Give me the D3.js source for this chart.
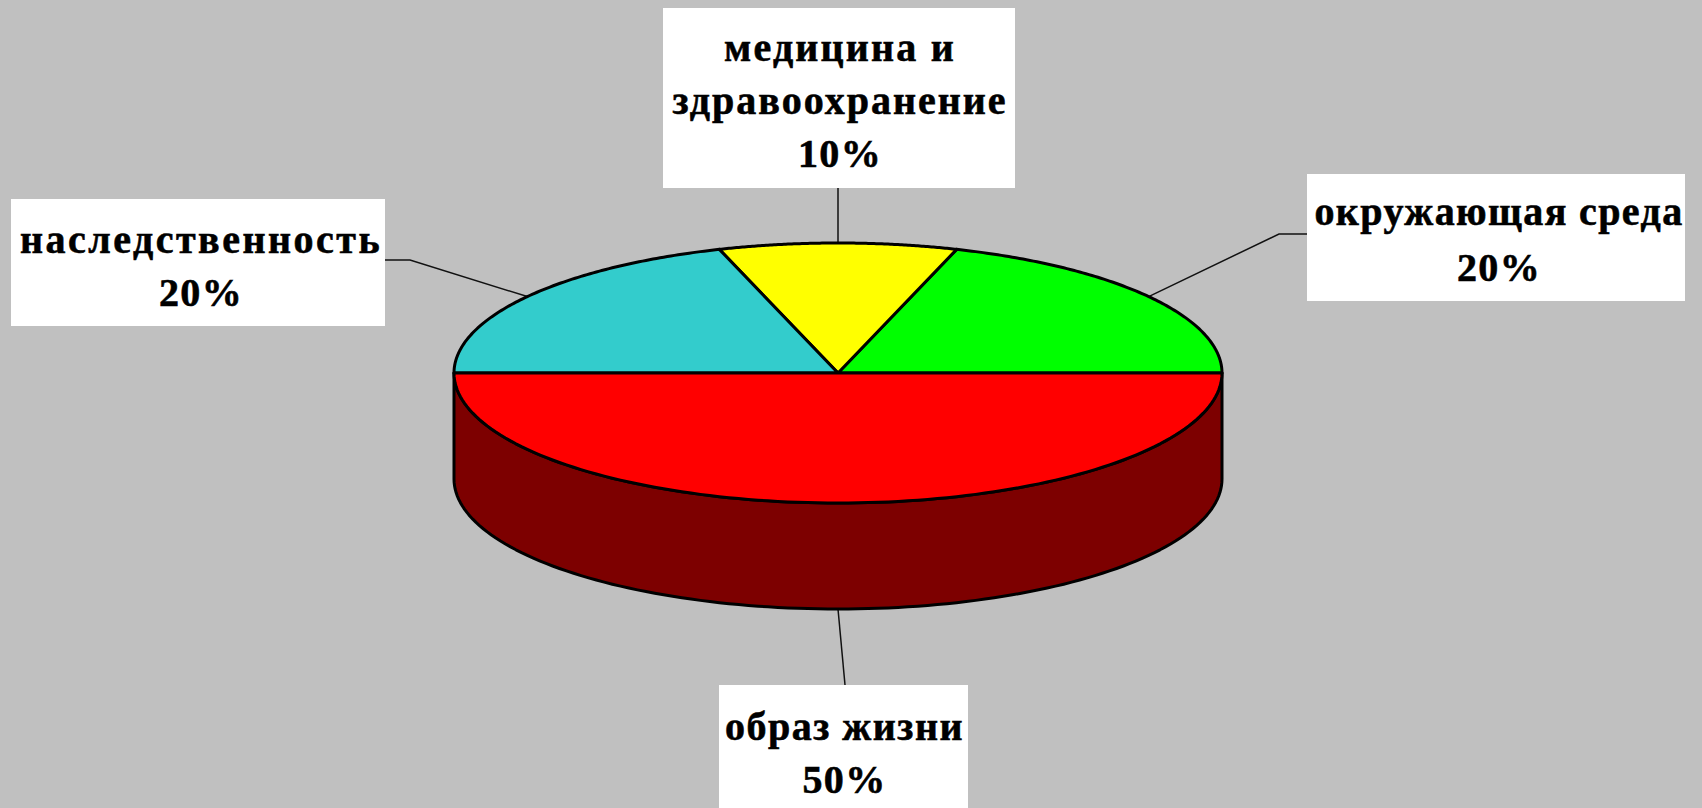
<!DOCTYPE html>
<html lang="ru">
<head>
<meta charset="utf-8">
<title>Факторы здоровья</title>
<script src="https://cdn.jsdelivr.net/npm/d3@7/dist/d3.min.js"></script>
<style>
html, body { margin: 0; padding: 0; background: #c0c0c0; overflow: hidden; }
svg { display: block; }
text { font-family: "Liberation Serif", serif; font-weight: 700; fill: #000; stroke: #000; stroke-width: 0.6px; text-anchor: middle; }
</style>
</head>
<body>
<svg id="chart" width="1702" height="808"></svg>
<script>
// Slices, clockwise starting from the rightmost point of the disc
const categories = ["образ жизни", "наследственность", "медицина и здравоохранение", "окружающая среда"];
const values = [50, 20, 10, 20];
const labelLines = [["образ жизни"], ["наследственность"], ["медицина и", "здравоохранение"], ["окружающая среда"]];

const topColours = ["#ff0000", "#33cccc", "#ffff00", "#00ff00"];
const wallColour = "#7d0000";

const width = 1702, height = 808;
const cx = 838, cy = 373;
const radiusX = 384, radiusY = 130, depth = 106;

// Label boxes, in the same order as the slices; tracking is per text row
const boxes = [
  { x0: 719, x1: 968, y0: 685, y1: 812, firstBaseline: 740, lineStep: 53, textShift: 1, tracking: [1.5, 1.3] },
  { x0: 11, x1: 385, y0: 199, y1: 326, firstBaseline: 253, lineStep: 53, textShift: 3, tracking: [2.5, 1.3] },
  { x0: 663, x1: 1015, y0: 8, y1: 188, firstBaseline: 61, lineStep: 53, textShift: 1, tracking: [2.2, 2, 1.3] },
  { x0: 1307, x1: 1685, y0: 174, y1: 301, firstBaseline: 225, lineStep: 56, textShift: 3, tracking: [1.4, 1.3] }
];

const svg = d3.select("#chart");

// Flat disc coordinates are projected through two linear scales
const px = d3.scaleLinear().domain([-1, 1]).range([cx - radiusX, cx + radiusX]);
const py = d3.scaleLinear().domain([-1, 1]).range([cy - radiusY, cy + radiusY]);

const slices = d3.pie().sort(null).value(d => d)
  .startAngle(Math.PI / 2).endAngle(Math.PI * 2.5)(values);

const rim = (a, drop = 0) => [px(Math.sin(a)), py(-Math.cos(a)) + drop];
const sampleAngles = (a0, a1) => d3.range(0, 121).map(i => a0 + (a1 - a0) * i / 120);
const line = d3.line();

// Side wall of the cylinder: only the front half is visible
const front = slices[0];
const wallOutline = [
  ...sampleAngles(front.startAngle, front.endAngle).map(a => rim(a)),
  ...sampleAngles(front.endAngle, front.startAngle).map(a => rim(a, depth))
];

// Leader lines go under the boxes and the pie
const mid = d => (d.startAngle + d.endAngle) / 2;
const leaders = slices.map((d, i) => {
  const b = boxes[i];
  const drop = i === 0 ? depth : 0;
  const start = rim(mid(d), drop);
  if (i === 0) return [start, [start[0] + 7, b.y0]];
  if (i === 2) return [start, [start[0], b.y1]];
  const boxEdge = i === 1 ? b.x1 : b.x0;
  const elbowX = i === 1 ? boxEdge + 25 : boxEdge - 28;
  const elbowY = i === 1 ? 260 : 234;
  return [start, [elbowX, elbowY], [boxEdge, elbowY]];
});

svg.append("g").selectAll("path").data(leaders).join("path")
  .attr("d", d => line(d))
  .attr("fill", "none").attr("stroke", "#111").attr("stroke-width", 1.5);

svg.append("path")
  .attr("d", line(wallOutline) + "Z")
  .attr("fill", wallColour)
  .attr("stroke", "#000").attr("stroke-width", 3).attr("stroke-linejoin", "round");

// Top face, one wedge per category, red last so its upper edge stays on top
const wedge = d => line([[px(0), py(0)], ...sampleAngles(d.startAngle, d.endAngle).map(a => rim(a))]) + "Z";
svg.append("g").selectAll("path")
  .data(slices.map((d, i) => ({ d, i })).reverse())
  .join("path")
  .attr("d", s => wedge(s.d))
  .attr("fill", s => topColours[s.i])
  .attr("stroke", "#000").attr("stroke-width", 3).attr("stroke-linejoin", "round");

// White label boxes with the name and the share
const labels = svg.append("g").selectAll("g").data(slices).join("g");
labels.append("rect")
  .attr("x", (d, i) => boxes[i].x0)
  .attr("y", (d, i) => boxes[i].y0)
  .attr("width", (d, i) => boxes[i].x1 - boxes[i].x0)
  .attr("height", (d, i) => boxes[i].y1 - boxes[i].y0)
  .attr("fill", "#fff");

labels.each(function (d, i) {
  const b = boxes[i];
  const rows = [...labelLines[i], `${values[i]}%`];
  d3.select(this).selectAll("text").data(rows).join("text")
    .attr("x", (b.x0 + b.x1) / 2 + b.textShift)
    .attr("y", (t, k) => b.firstBaseline + k * b.lineStep)
    .attr("font-size", 40)
    .attr("letter-spacing", (t, k) => b.tracking[k])
    .text(t => t);
});
</script>
</body>
</html>
